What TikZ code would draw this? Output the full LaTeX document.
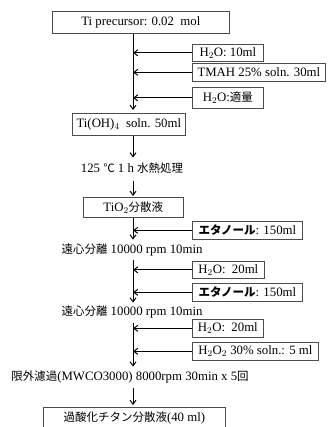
\documentclass[tikz,border=0pt]{standalone}
\usepackage{fontspec}
\setmainfont{Liberation Serif}
\newfontfamily\jp{Noto Sans CJK JP}
\usetikzlibrary{arrows.meta}
\newcommand\J[1]{{\jp\fontsize{11.5}{13}\selectfont #1}}
\begin{document}
\begin{tikzpicture}[x=1pt,y=-1pt,
  font=\fontsize{12.8}{14}\selectfont,
  box/.style={draw=black!70,line width=0.7pt,inner sep=0pt,anchor=north west},
  lbl/.style={inner sep=0pt,anchor=center},
  arr/.style={line width=1pt,-{Straight Barb[length=4pt,width=6pt]}},
  ln/.style={line width=1pt}]
\useasboundingbox (0,0) rectangle (332,427);
\fill[white] (0,0) rectangle (332,427);
\coordinate (m) at (133,0);
% main boxes
\node[box,minimum width=177pt,minimum height=22pt] (b1) at (52,11) {Ti precursor: 0.02\ \ mol};
\node[box,minimum width=71pt,minimum height=17pt] (s1) at (192,44) {H$_2$O: 10ml};
\node[box,minimum width=133pt,minimum height=18pt] (s2) at (192,63) {TMAH 25\% soln. 30ml};
\node[box,minimum width=71pt,minimum height=21pt] (s3) at (192,87) {H$_2$O:\J{適量}};
\node[box,minimum width=113pt,minimum height=22pt] (b2) at (72,113) {Ti(OH)$_4$\ \ soln. 50ml};
\node[lbl] (t1) at (132,168) {125 \J{℃} 1 h \J{水熱処理}};
\node[box,minimum width=100pt,minimum height=20pt] (b3) at (83,197) {TiO$_2$\J{分散液}};
\node[box,minimum width=110pt,minimum height=18pt] (s4) at (192,221) {\J{\bfseries エタノール}: 150ml};
\node[lbl] (t2) at (132,250) {\J{遠心分離} 10000 rpm 10min};
\node[box,minimum width=72pt,minimum height=17pt] (s5) at (192,261) {H$_2$O:\ \ 20ml};
\node[box,minimum width=110pt,minimum height=18pt] (s6) at (192,283) {\J{\bfseries エタノール}: 150ml};
\node[lbl] (t3) at (132,312) {\J{遠心分離} 10000 rpm 10min};
\node[box,minimum width=71pt,minimum height=18pt] (s7) at (192,319) {H$_2$O:\ \ 20ml};
\node[box,minimum width=126pt,minimum height=18pt] (s8) at (192,342) {H$_2$O$_2$ 30\% soln.: 5 ml};
\node[lbl] (t4) at (130,377) {\J{限外濾過}(MWCO3000) 8000rpm 30min x 5\J{回}};
\node[box,minimum width=182pt,minimum height=21pt] (b4) at (43,407) {\J{過酸化チタン分散液}(40 ml)};
% connectors
\draw[arr] (b1.south -| m) -- ([yshift=3pt]b2.north -| m);
\foreach \s in {s1,s2,s3}{\draw[arr] (\s.west) -- (\s.west -| m);}
\draw[arr] (b2.south -| m) -- ([yshift=5pt]t1.north -| m);
\draw[arr] ([yshift=-7pt]t1.south -| m) -- ([yshift=1pt]b3.north -| m);
\draw[arr] (b3.south -| m) -- ([yshift=4pt]t2.north -| m);
\draw[arr] (s4.west) -- (s4.west -| m);
\draw[arr] ([yshift=-4pt]t2.south -| m) -- ([yshift=3pt]t3.north -| m);
\draw[arr] (s5.west) -- (s5.west -| m);
\draw[arr] (s6.west) -- (s6.west -| m);
\draw[arr] ([yshift=-5pt]t3.south -| m) -- ([yshift=4pt]t4.north -| m);
\draw[arr] (s7.west) -- (s7.west -| m);
\draw[arr] (s8.west) -- (s8.west -| m);
\draw[arr] ([yshift=-5pt]t4.south -| m) -- ([yshift=2pt]b4.north -| m);
\end{tikzpicture}
\end{document}
